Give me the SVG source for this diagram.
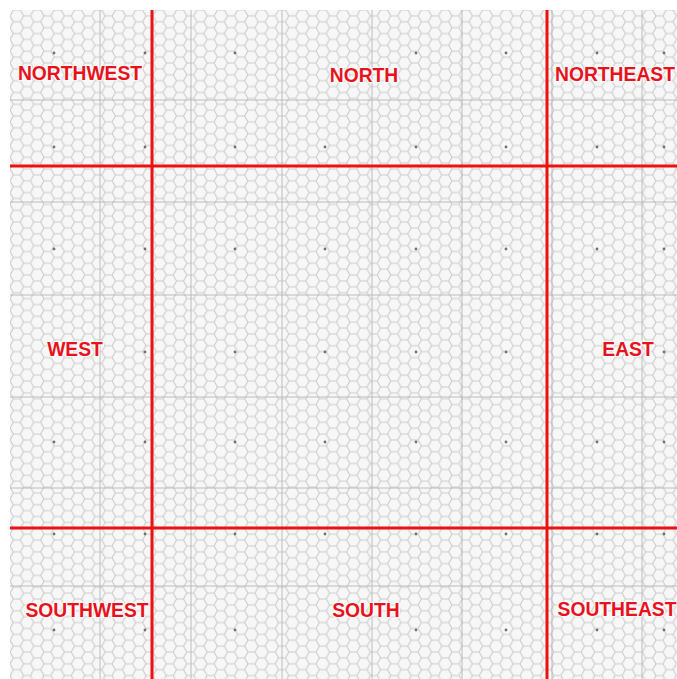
<svg xmlns="http://www.w3.org/2000/svg" width="677" height="679" viewBox="0 0 677 679">
  <defs>
    <pattern id="hex" patternUnits="userSpaceOnUse" x="10" y="10" width="20.4" height="11.78">
      <rect width="20.4" height="11.78" fill="#f7f7f7"/>
      <path d="M0,5.89 L3.4,0 L10.2,0 L13.6,5.89 L10.2,11.78 L3.4,11.78 Z M13.6,5.89 L20.4,5.89" fill="none" stroke="#cbcbcb" stroke-width="1.1"/>
    </pattern>
  </defs>
  <style>
    .tile { stroke: #b4b4b4; stroke-width: 0.9; fill: none; }
    .dot { fill: #707070; }
    .div { stroke: #ee1111; stroke-width: 3; fill: none; }
    .lbl { font-family: "Liberation Sans", Arial, sans-serif; font-weight: bold; font-size: 19.3px; fill: #e8121c; text-anchor: middle; stroke: #ffffff; stroke-opacity: 0.75; stroke-width: 2.5; paint-order: stroke; stroke-linejoin: round; }
  </style>
  <rect x="0" y="0" width="677" height="679" fill="#ffffff"/>
  <g id="map">
    <rect x="10" y="10" width="667" height="669" fill="url(#hex)"/>
    <g id="tile-lines" class="tile">
      <line x1="100" y1="10" x2="100" y2="679"/>
      <line x1="191" y1="10" x2="191" y2="679"/>
      <line x1="282" y1="10" x2="282" y2="679"/>
      <line x1="372" y1="10" x2="372" y2="679"/>
      <line x1="462" y1="10" x2="462" y2="679"/>
      <line x1="552" y1="10" x2="552" y2="679"/>
      <line x1="642" y1="10" x2="642" y2="679"/>
      <line x1="10" y1="100" x2="677" y2="100"/>
      <line x1="10" y1="202" x2="677" y2="202"/>
      <line x1="10" y1="295" x2="677" y2="295"/>
      <line x1="10" y1="397" x2="677" y2="397"/>
      <line x1="10" y1="488" x2="677" y2="488"/>
      <line x1="10" y1="586" x2="677" y2="586"/>
    </g>
    <g id="markers" class="dot">
      <circle cx="54" cy="53" r="1.4"/><circle cx="145" cy="53" r="1.4"/><circle cx="235" cy="53" r="1.4"/><circle cx="416" cy="53" r="1.4"/><circle cx="506" cy="53" r="1.4"/><circle cx="597" cy="53" r="1.4"/><circle cx="664" cy="53" r="1.4"/>
      <circle cx="54" cy="147" r="1.4"/><circle cx="145" cy="147" r="1.4"/><circle cx="235" cy="147" r="1.4"/><circle cx="325" cy="147" r="1.4"/><circle cx="416" cy="147" r="1.4"/><circle cx="506" cy="147" r="1.4"/><circle cx="597" cy="147" r="1.4"/><circle cx="664" cy="147" r="1.4"/>
      <circle cx="54" cy="249" r="1.4"/><circle cx="145" cy="249" r="1.4"/><circle cx="235" cy="249" r="1.4"/><circle cx="325" cy="249" r="1.4"/><circle cx="416" cy="249" r="1.4"/><circle cx="506" cy="249" r="1.4"/><circle cx="597" cy="249" r="1.4"/><circle cx="664" cy="249" r="1.4"/>
      <circle cx="145" cy="352" r="1.4"/><circle cx="235" cy="352" r="1.4"/><circle cx="325" cy="352" r="1.4"/><circle cx="416" cy="352" r="1.4"/><circle cx="506" cy="352" r="1.4"/><circle cx="664" cy="352" r="1.4"/>
      <circle cx="54" cy="442" r="1.4"/><circle cx="145" cy="442" r="1.4"/><circle cx="235" cy="442" r="1.4"/><circle cx="325" cy="442" r="1.4"/><circle cx="416" cy="442" r="1.4"/><circle cx="506" cy="442" r="1.4"/><circle cx="597" cy="442" r="1.4"/><circle cx="664" cy="442" r="1.4"/>
      <circle cx="54" cy="534" r="1.4"/><circle cx="145" cy="534" r="1.4"/><circle cx="235" cy="534" r="1.4"/><circle cx="325" cy="534" r="1.4"/><circle cx="416" cy="534" r="1.4"/><circle cx="506" cy="534" r="1.4"/><circle cx="597" cy="534" r="1.4"/><circle cx="664" cy="534" r="1.4"/>
      <circle cx="54" cy="630" r="1.4"/><circle cx="145" cy="630" r="1.4"/><circle cx="235" cy="630" r="1.4"/><circle cx="416" cy="630" r="1.4"/><circle cx="506" cy="630" r="1.4"/><circle cx="597" cy="630" r="1.4"/><circle cx="664" cy="630" r="1.4"/>
    </g>
  </g>
  <g id="dividers" class="div">
    <line x1="152" y1="10" x2="152" y2="679"/>
    <line x1="547" y1="10" x2="547" y2="679"/>
    <line x1="10" y1="166" x2="677" y2="166"/>
    <line x1="10" y1="528" x2="677" y2="528"/>
  </g>
  <g id="northwest"><text class="lbl" x="80" y="79.5">NORTHWEST</text></g>
  <g id="north"><text class="lbl" x="364" y="81.5">NORTH</text></g>
  <g id="northeast"><text class="lbl" x="615" y="80.5">NORTHEAST</text></g>
  <g id="west"><text class="lbl" x="75" y="356">WEST</text></g>
  <g id="east"><text class="lbl" x="628" y="356">EAST</text></g>
  <g id="southwest"><text class="lbl" x="87" y="617">SOUTHWEST</text></g>
  <g id="south"><text class="lbl" x="366" y="617">SOUTH</text></g>
  <g id="southeast"><text class="lbl" x="617" y="616">SOUTHEAST</text></g>
</svg>
